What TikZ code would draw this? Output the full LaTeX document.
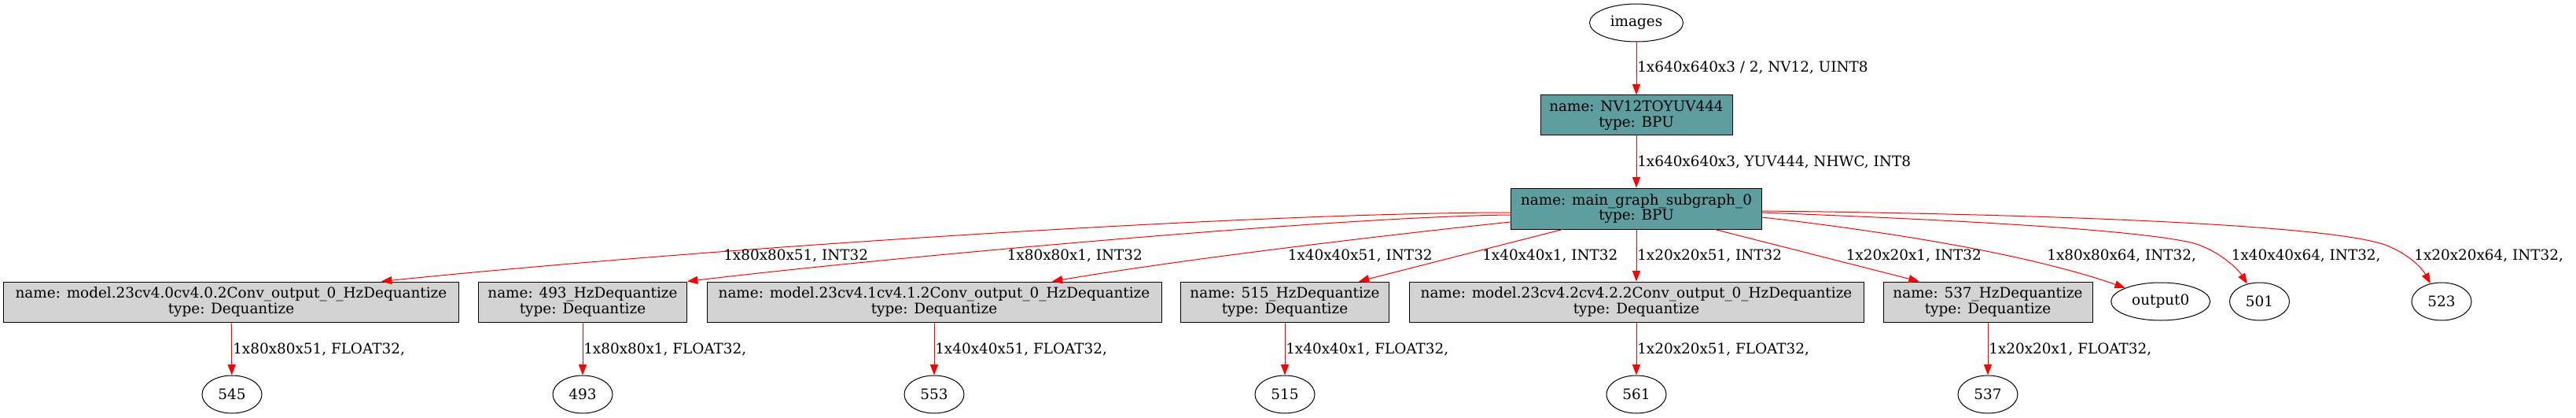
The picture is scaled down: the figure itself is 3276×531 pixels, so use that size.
\documentclass[tikz,border=0pt]{standalone}
\usepackage{fontspec}
\setmainfont{DejaVu Serif}
\usetikzlibrary{arrows.meta,shapes.geometric}
\definecolor{bpucol}{HTML}{5F9EA0}
\definecolor{deqcol}{HTML}{D3D3D3}
\tikzset{
  every node/.style={font=\fontsize{13.8pt}{14.7pt}\selectfont},
  bpu/.style={draw=black, fill=bpucol, line width=0.75pt, align=center, inner sep=0pt, minimum height=38.25pt},
  deq/.style={draw=black, fill=deqcol, line width=0.75pt, align=center, inner sep=0pt, minimum height=38.25pt},
  oval/.style={ellipse, draw=black, line width=0.75pt, minimum width=57pt, minimum height=36pt, inner sep=0pt},
  lab/.style={anchor=base west, inner sep=0pt},
  redarrow/.style={draw=red, line width=0.75pt, -{Triangle[length=10pt,width=7.5pt]}}
}
\begin{document}
\begin{tikzpicture}[x=0.75pt, y=-0.75pt]
\useasboundingbox (0,0) rectangle (3276,531);
% nodes
\node[oval, minimum width=89.25pt] (images) at (2081,29) {images};
\node[bpu, minimum width=183pt] (nv) at (2081,146.5) {name: NV12TOYUV444\\type: BPU};
\node[bpu, minimum width=239.25pt, minimum height=39pt] (main) at (2081,265) {name: main\_graph\_subgraph\_0\\type: BPU};
\node[deq, minimum width=434.25pt] (b1) at (294,383.5) {name: model.23cv4.0cv4.0.2Conv\_output\_0\_HzDequantize\\type: Dequantize};
\node[deq, minimum width=198.75pt] (b2) at (741,383.5) {name: 493\_HzDequantize\\type: Dequantize};
\node[deq, minimum width=433.5pt] (b3) at (1188,383.5) {name: model.23cv4.1cv4.1.2Conv\_output\_0\_HzDequantize\\type: Dequantize};
\node[deq, minimum width=198.75pt] (b4) at (1634,383.5) {name: 515\_HzDequantize\\type: Dequantize};
\node[deq, minimum width=433.5pt] (b5) at (2081,383.5) {name: model.23cv4.2cv4.2.2Conv\_output\_0\_HzDequantize\\type: Dequantize};
\node[deq, minimum width=199.5pt] (b6) at (2528,383.5) {name: 537\_HzDequantize\\type: Dequantize};
\node[oval, minimum width=94.5pt] (out0) at (2747.7,383) {output0};
\node[oval] (o501) at (2873.5,383) {501};
\node[oval] (o523) at (3105,383) {523};
\node[oval] (o545) at (295,501) {545};
\node[oval] (o493) at (741,501) {493};
\node[oval] (o553) at (1188,501) {553};
\node[oval] (o515) at (1634,501) {515};
\node[oval] (o561) at (2081,501) {561};
\node[oval] (o537) at (2528,501) {537};
% edges
\draw[redarrow] (images) -- (nv);
\draw[redarrow] (nv) -- (main);
\draw[redarrow] ([yshift=-3.75pt]main.west) .. controls (1600,270) and (900,315) .. ([xshift=143.25pt]b1.north);
\draw[redarrow] ([yshift=-6pt]main.west) .. controls (1700,275) and (1100,330) .. (b2.north east);
\draw[redarrow] ([yshift=-12.75pt]main.west) .. controls (1750,300) and (1500,330) .. ([xshift=112.5pt]b3.north);
\draw[redarrow] ([xshift=-70.5pt]main.south) -- ([xshift=70.5pt]b4.north);
\draw[redarrow] (main) -- (b5);
\draw[redarrow] ([xshift=75pt]main.south) -- ([xshift=-65.5pt]b6.north);
\draw[redarrow] ([yshift=-8.25pt]main.east) .. controls (2450,300) and (2600,330) .. (out0.159);
\draw[redarrow] ([yshift=-3.75pt]main.east) .. controls (2500,280) and (2720,292) .. (2790,309) .. controls (2820,318) and (2845,340) .. (o501.125);
\draw[redarrow] ([yshift=-2.25pt]main.east) .. controls (2600,272) and (2950,285) .. (3030,310) .. controls (3060,320) and (3080,340) .. (o523.122);
\draw[redarrow] (b1) -- (o545);
\draw[redarrow] (b2) -- (o493);
\draw[redarrow] (b3) -- (o553);
\draw[redarrow] (b4) -- (o515);
\draw[redarrow] (b5) -- (o561);
\draw[redarrow] (b6) -- (o537);
% labels
\node[lab] (l1) at (2082,91.7) {1x640x640x3 / 2, NV12, UINT8};
\node[lab] (l2) at (2082,211.7) {1x640x640x3, YUV444, NHWC, INT8};
\node[lab] (l3) at (920,330.3) {1x80x80x51, INT32};
\node[lab] (l4) at (1280.5,330.3) {1x80x80x1, INT32};
\node[lab] (l5) at (1637.6,330.3) {1x40x40x51, INT32};
\node[lab] (l6) at (1885,330.3) {1x40x40x1, INT32};
\node[lab] (l7) at (2082,330.3) {1x20x20x51, INT32};
\node[lab] (l8) at (2347.5,330.3) {1x20x20x1, INT32};
\node[lab] (l9) at (2603,330.7) {1x80x80x64, INT32,};
\node[lab] (l10) at (2837.6,330.7) {1x40x40x64, INT32,};
\node[lab] (l11) at (3070,330.7) {1x20x20x64, INT32,};
\node[lab] (l12) at (296,449.3) {1x80x80x51, FLOAT32,};
\node[lab] (l13) at (742,449.3) {1x80x80x1, FLOAT32,};
\node[lab] (l14) at (1189,449.3) {1x40x40x51, FLOAT32,};
\node[lab] (l15) at (1635,449.3) {1x40x40x1, FLOAT32,};
\node[lab] (l16) at (2082,449.3) {1x20x20x51, FLOAT32,};
\node[lab] (l17) at (2529,449.3) {1x20x20x1, FLOAT32,};
\end{tikzpicture}
\end{document}
